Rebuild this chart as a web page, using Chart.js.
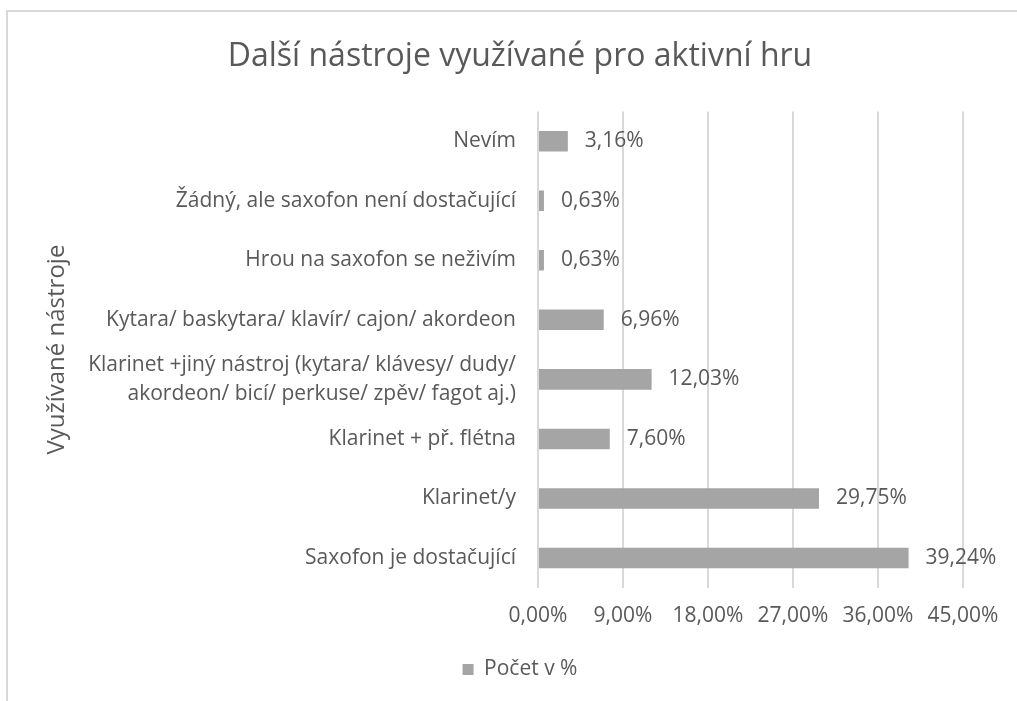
<!DOCTYPE html>
<html>
<head>
<meta charset="utf-8">
<script src="https://cdn.jsdelivr.net/npm/chart.js@4"></script>
<style>
  html, body { margin: 0; padding: 0; background: #fff; overflow: hidden; }
  #frame { position: absolute; left: 6px; top: 10px; width: 1100px; height: 800px;
           border-left: 2px solid #d9d9d9; border-top: 2px solid #d9d9d9; }
  #wrap { position: absolute; left: 0; top: 0; width: 1017px; height: 701px; }
</style>
</head>
<body>
<div id="frame"></div>
<div id="wrap"><canvas id="chart" width="1017" height="701"></canvas></div>
<script>
  // data
  var categories = [
    'Nevím',
    'Žádný, ale saxofon není dostačující',
    'Hrou na saxofon se neživím',
    'Kytara/ baskytara/ klavír/ cajon/ akordeon',
    ['Klarinet +jiný nástroj (kytara/ klávesy/ dudy/', 'akordeon/ bicí/ perkuse/ zpěv/ fagot aj.)'],
    'Klarinet + př. flétna',
    'Klarinet/y',
    'Saxofon je dostačující'
  ];
  var percentValues = [3.16, 0.63, 0.63, 6.96, 12.03, 7.60, 29.75, 39.24];
  var xTicks = [0, 9, 18, 27, 36, 45];

  var seriesName = 'Počet v %';
  var textColor = '#595959';
  var barColor = '#a5a5a5';
  var gridColor = '#d9d9d9';
  var fontFamily = "'Open Sans', 'Noto Sans', sans-serif";

  function fmt(v) {
    return v.toFixed(2).replace('.', ',') + '%';
  }

  // value labels at the end of each bar
  var valueLabels = {
    id: 'valueLabels',
    afterDatasetsDraw: function(chart) {
      var ctx = chart.ctx;
      var meta = chart.getDatasetMeta(0);
      ctx.save();
      ctx.font = '21px ' + fontFamily;
      ctx.fillStyle = textColor;
      ctx.textAlign = 'left';
      ctx.textBaseline = 'middle';
      meta.data.forEach(function(bar, i) {
        ctx.fillText(fmt(percentValues[i]), bar.x + 17, bar.y);
      });
      ctx.restore();
    }
  };

  var Cnvs = document.getElementById('chart').getContext('2d');
  var barChart = new Chart(Cnvs, {
    type: 'bar',
    data: {
      labels: categories,
      datasets: [{
        label: seriesName,
        data: percentValues,
        backgroundColor: barColor,
        borderWidth: 0,
        categoryPercentage: 1,
        barPercentage: 0.345
      }]
    },
    options: {
      indexAxis: 'y',
      responsive: false,
      animation: false,
      layout: { padding: { left: 23, right: 0, top: 38, bottom: 11 } },
      plugins: {
        title: {
          display: true,
          text: 'Další nástroje využívané pro aktivní hru',
          color: textColor,
          font: { family: fontFamily, size: 32, weight: 'normal' },
          padding: { top: 0, bottom: 35 }
        },
        legend: {
          position: 'bottom',
          labels: {
            color: textColor,
            font: { family: fontFamily, size: 21 },
            boxWidth: 11,
            boxHeight: 11,
            padding: 14
          }
        },
        tooltip: { enabled: false }
      },
      scales: {
        x: {
          min: 0,
          max: 45,
          afterBuildTicks: function(scale) {
            scale.ticks = xTicks.map(function(v) { return { value: v }; });
          },
          ticks: {
            color: textColor,
            font: { family: fontFamily, size: 21 },
            padding: 16,
            maxRotation: 0,
            callback: function(v) { return fmt(v); }
          },
          grid: { color: gridColor, lineWidth: 2, drawTicks: false },
          border: { display: false }
        },
        y: {
          afterFit: function(scale) { scale.width = 515; },
          ticks: {
            autoSkip: false,
            color: textColor,
            font: { family: fontFamily, size: 21, lineHeight: 1.38 },
            padding: 22
          },
          grid: { display: false, drawTicks: false },
          border: { display: false },
          title: {
            display: true,
            text: 'Využívané nástroje',
            color: textColor,
            font: { family: fontFamily, size: 24 },
            padding: { top: 20, bottom: 0 }
          }
        },
        y2: {
          type: 'linear',
          position: 'right',
          ticks: { display: false },
          grid: { display: false, drawTicks: false },
          border: { display: false },
          afterFit: function(scale) { scale.width = 54; }
        }
      }
    },
    plugins: [valueLabels]
  });
</script>
</body>
</html>
